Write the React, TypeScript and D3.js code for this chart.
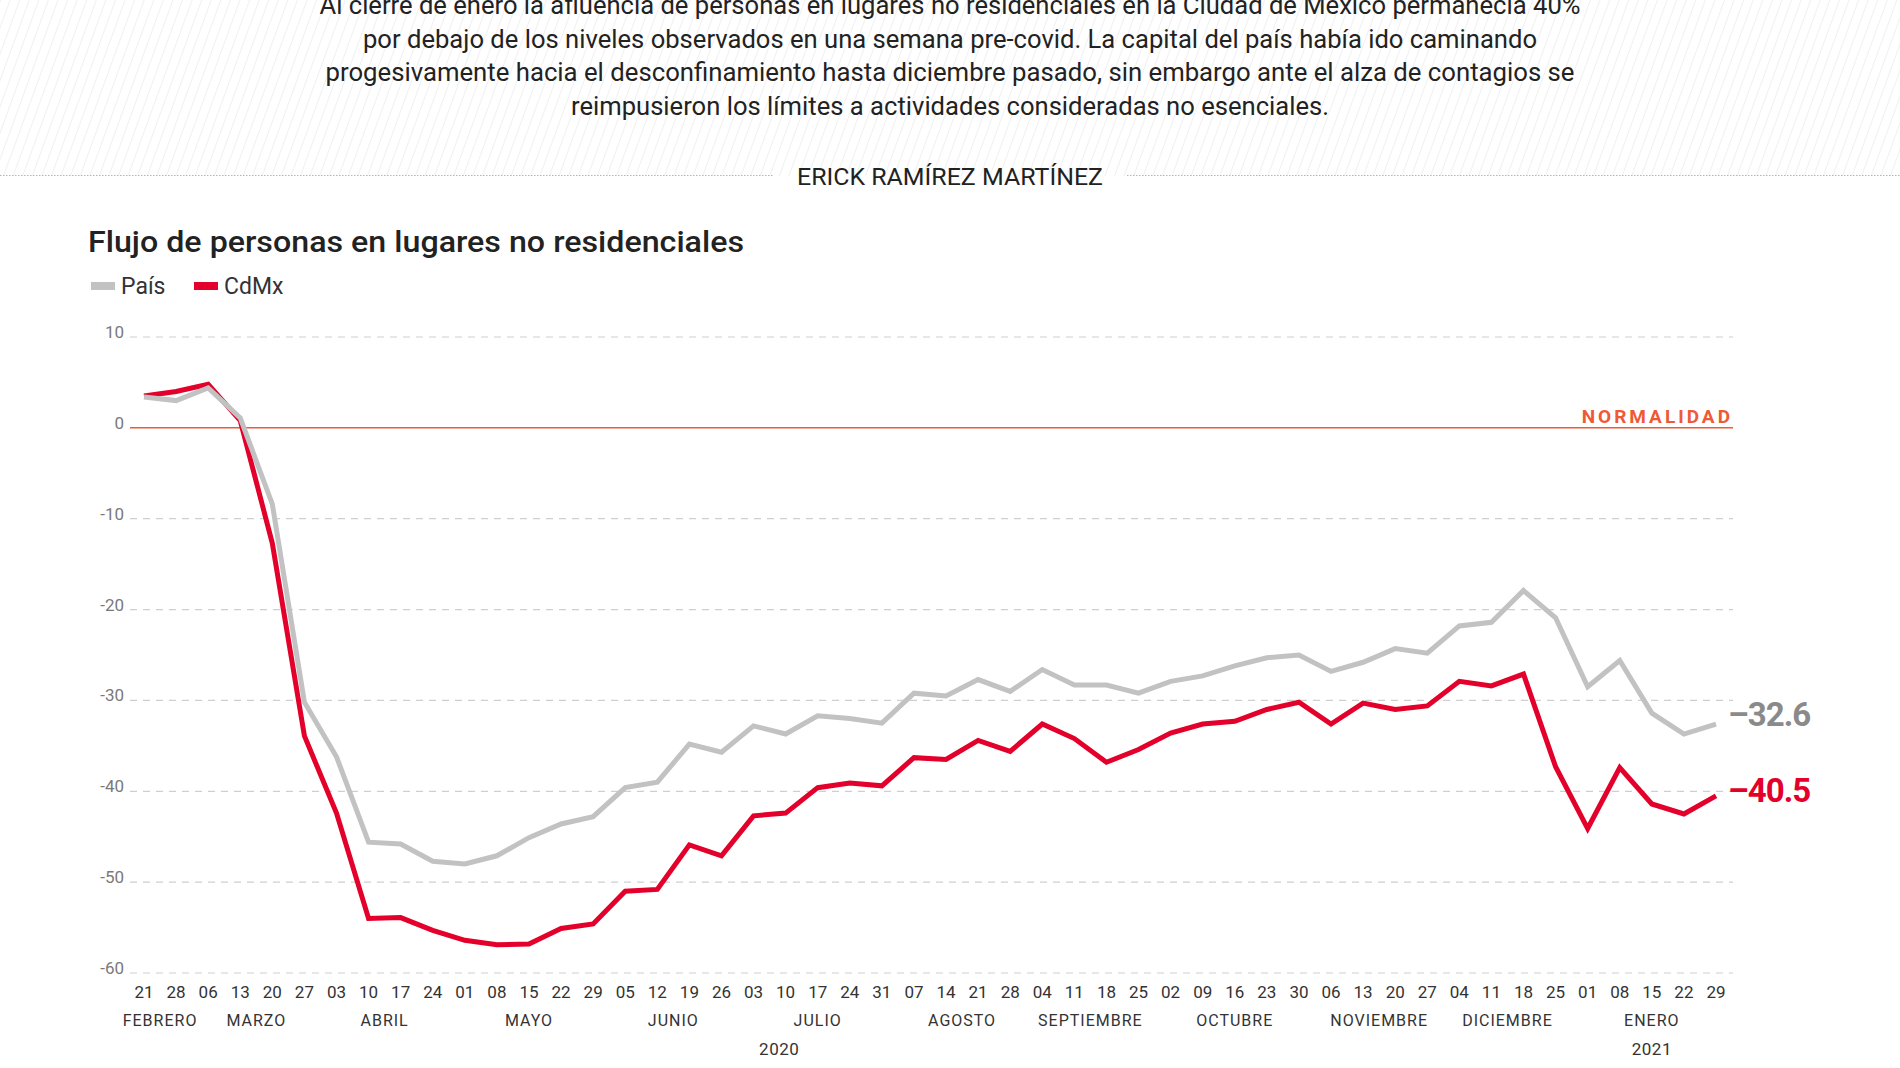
import React, { useEffect } from "react";
import * as d3 from "d3";

// semanas: 21 feb 2020 - 29 ene 2021
const days = [
  "21", "28",
  "06", "13", "20", "27",
  "03", "10", "17", "24",
  "01", "08", "15", "22", "29",
  "05", "12", "19", "26",
  "03", "10", "17", "24", "31",
  "07", "14", "21", "28",
  "04", "11", "18", "25",
  "02", "09", "16", "23", "30",
  "06", "13", "20", "27",
  "04", "11", "18", "25",
  "01", "08", "15", "22", "29",
];
const monthNames = ["FEBRERO", "MARZO", "ABRIL", "MAYO", "JUNIO", "JULIO", "AGOSTO", "SEPTIEMBRE", "OCTUBRE", "NOVIEMBRE", "DICIEMBRE", "ENERO"];
const monthWeeks = [2, 4, 4, 5, 4, 5, 4, 4, 5, 4, 4, 5];
const years = ["2020", "2021"];
const yearPos = [19.8, 47];

const pais = [
  3.4, 3.0, 4.4, 1.1, -8.4, -30.2, -36.2, -45.6, -45.8, -47.7,
  -48.0, -47.1, -45.1, -43.6, -42.8, -39.6, -39.0, -34.8, -35.7, -32.8,
  -33.7, -31.7, -32.0, -32.5, -29.2, -29.5, -27.7, -29.0, -26.6, -28.3,
  -28.3, -29.2, -27.9, -27.3, -26.2, -25.3, -25.0, -26.8, -25.8, -24.3,
  -24.8, -21.8, -21.4, -17.9, -20.9, -28.5, -25.6, -31.4, -33.7, -32.6,
];
const cdmx = [
  3.5, 4.0, 4.8, 0.8, -12.7, -33.9, -42.4, -54.0, -53.9, -55.3,
  -56.4, -56.9, -56.8, -55.1, -54.6, -51.0, -50.8, -45.9, -47.1, -42.7,
  -42.4, -39.6, -39.1, -39.4, -36.3, -36.5, -34.4, -35.6, -32.6, -34.2,
  -36.8, -35.4, -33.6, -32.6, -32.3, -31.0, -30.2, -32.6, -30.3, -31.0,
  -30.6, -27.9, -28.4, -27.1, -37.3, -44.1, -37.4, -41.4, -42.5, -40.5,
];
const yTicks = [10, 0, -10, -20, -30, -40, -50, -60];

const intro = [
  "Al cierre de enero la afluencia de personas en lugares no residenciales en la Ciudad de México permanecía 40%",
  "por debajo de los niveles observados en una semana pre-covid. La capital del país había ido caminando",
  "progesivamente hacia el desconfinamiento hasta diciembre pasado, sin embargo ante el alza de contagios se",
  "reimpusieron los límites a actividades consideradas no esenciales.",
];
const introWidths = [1261, 1174, 1249, 758];

const GRAY = "#c2c2c2";
const RED = "#e3002b";
const ORANGE = "#ef5a36";
const FONT = "Roboto, 'Noto Sans', sans-serif";

const W = 1900;
const H = 1068;

export default function App() {
  useEffect(() => {
    document.body.style.margin = "0";
  }, []);

  const x = d3.scaleLinear().domain([0, days.length - 1]).range([144, 1716]);
  const y = d3.scaleLinear().domain([10, -60]).range([337, 973]);
  const gridX0 = 130;
  const gridX1 = 1733;

  const line = d3
    .line<number>()
    .x((_, i) => x(i))
    .y((d) => y(d))
    .curve(d3.curveLinear);

  // posiciones centrales de cada mes
  let acc = 0;
  const monthCenters = monthWeeks.map((n) => {
    const c = acc + (n - 1) / 2;
    acc += n;
    return c;
  });

  const last = days.length - 1;

  return (
    <svg width={W} height={H} style={{ position: "absolute", left: 0, top: 0, background: "#fff" }} fontFamily={FONT}>
      <defs>
        <pattern id="hatch" width="9" height="9" patternUnits="userSpaceOnUse" patternTransform="rotate(20)">
          <line x1="0" y1="0" x2="0" y2="9" stroke="#e6e6e6" strokeWidth="1.2" />
        </pattern>
      </defs>
      <rect x={0} y={0} width={W} height={176} fill="url(#hatch)" />

      {intro.map((t, i) => (
        <text
          key={i}
          x={950}
          y={14 + i * 33.5}
          textAnchor="middle"
          fontSize={25}
          fill="#222"
          textLength={introWidths[i]}
          lengthAdjust="spacingAndGlyphs"
        >
          {t}
        </text>
      ))}

      <line x1={0} x2={773} y1={175.5} y2={175.5} stroke="#b5b5b5" strokeWidth={1.2} strokeDasharray="1.5 1.5" />
      <line x1={1127} x2={W} y1={175.5} y2={175.5} stroke="#b5b5b5" strokeWidth={1.2} strokeDasharray="1.5 1.5" />
      <text x={950} y={185} textAnchor="middle" fontSize={24} fill="#222" textLength={306} lengthAdjust="spacingAndGlyphs">
        ERICK RAMÍREZ MARTÍNEZ
      </text>

      <text x={88} y={252} fontSize={30} fontWeight={500} fill="#222" textLength={656} lengthAdjust="spacingAndGlyphs">
        Flujo de personas en lugares no residenciales
      </text>

      <rect x={91} y={282} width={24} height={8} fill={GRAY} />
      <text x={121} y={294} fontSize={23} fill="#333">País</text>
      <rect x={194} y={282} width={24} height={8} fill={RED} />
      <text x={224} y={294} fontSize={23} fill="#333">CdMx</text>

      {yTicks.map((t) => (
        <g key={t}>
          {t !== 0 && (
            <line x1={gridX0} x2={gridX1} y1={y(t)} y2={y(t)} stroke="#cfcfcf" strokeWidth={1.2} strokeDasharray="7 6" />
          )}
          <text x={124} y={y(t) + 1} textAnchor="end" fontSize={17} fill="#7a7a7a">
            {t}
          </text>
        </g>
      ))}
      <line x1={gridX0} x2={gridX1} y1={y(0)} y2={y(0)} stroke={ORANGE} strokeWidth={1.5} />
      <text x={gridX1} y={y(0) - 5} textAnchor="end" fontSize={19} fontWeight={700} fill={ORANGE} letterSpacing={3}>
        NORMALIDAD
      </text>

      <path d={line(cdmx) || ""} fill="none" stroke={RED} strokeWidth={5} strokeLinejoin="miter" />
      <path d={line(pais) || ""} fill="none" stroke={GRAY} strokeWidth={5} strokeLinejoin="miter" />

      <text x={x(last) + 12} y={y(pais[last]) + 2} fontSize={33} fontWeight={700} fill="#8a8a8a" letterSpacing={-1}>
        {"\u2013" + Math.abs(pais[last]).toFixed(1)}
      </text>
      <text x={x(last) + 12} y={y(cdmx[last]) + 6} fontSize={33} fontWeight={700} fill={RED} letterSpacing={-1}>
        {"\u2013" + Math.abs(cdmx[last]).toFixed(1)}
      </text>

      {days.map((d, i) => (
        <text key={i} x={x(i)} y={998} textAnchor="middle" fontSize={17} fill="#333">
          {d}
        </text>
      ))}
      {monthNames.map((m, i) => (
        <text key={m} x={x(monthCenters[i])} y={1026} textAnchor="middle" fontSize={16} fill="#333" letterSpacing={1}>
          {m}
        </text>
      ))}
      {years.map((yr, i) => (
        <text key={yr} x={x(yearPos[i])} y={1055} textAnchor="middle" fontSize={17} fill="#333" letterSpacing={0.5}>
          {yr}
        </text>
      ))}
    </svg>
  );
}
